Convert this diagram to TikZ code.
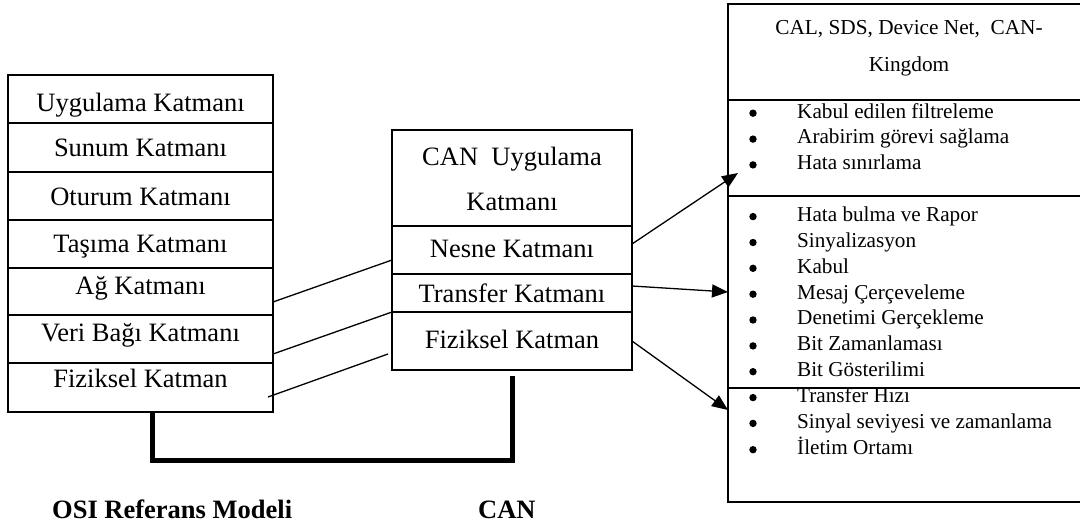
\documentclass[tikz,border=0pt]{standalone}
\usepackage{fontspec}
\setmainfont{Liberation Serif}
\usetikzlibrary{arrows.meta}
\begin{document}
\begin{tikzpicture}[x=1pt,y=-1pt,
  box/.style={draw, line width=1.4pt, inner sep=0pt, outer sep=0pt},
  lbl/.style={inner sep=0pt, anchor=base, font=\fontsize{26.5}{30}\selectfont},
  head/.style={inner sep=0pt, anchor=base, font=\fontsize{21.3}{25}\selectfont},
  item/.style={inner sep=0pt, anchor=base west, font=\fontsize{21.2}{25}\selectfont},
  title/.style={inner sep=0pt, anchor=base west, font=\fontsize{26.5}{30}\selectfont\bfseries},
  link/.style={line width=1.3pt},
  pointer/.style={line width=1.3pt, -{Triangle[length=16pt,width=13pt]}},
  bracket/.style={line width=5pt, line join=miter}]
\useasboundingbox (0,0) rectangle (1080,527);

% OSI reference model: seven stacked layers
\node[box, minimum width=265pt, minimum height=48pt] (r1) at (140.5,99)   {};
\node[box, minimum width=265pt, minimum height=49pt] (r2) at (140.5,147.5) {};
\node[box, minimum width=265pt, minimum height=48pt] (r3) at (140.5,196)  {};
\node[box, minimum width=265pt, minimum height=48pt] (r4) at (140.5,244)  {};
\node[box, minimum width=265pt, minimum height=47pt] (r5) at (140.5,291.5) {};
\node[box, minimum width=265pt, minimum height=48pt] (r6) at (140.5,339)  {};
\node[box, minimum width=265pt, minimum height=49pt] (r7) at (140.5,387.5) {};
\node[lbl] (t1) at (140.5,112) {Uygulama Katmanı};
\node[lbl] (t2) at (140.5,157) {Sunum Katmanı};
\node[lbl] (t3) at (140.5,205) {Oturum Katmanı};
\node[lbl] (t4) at (140.5,252) {Taşıma Katmanı};
\node[lbl] (t5) at (140.5,294) {Ağ Katmanı};
\node[lbl] (t6) at (140.5,341) {Veri Bağı Katmanı};
\node[lbl] (t7) at (140.5,387) {Fiziksel Katman};

% CAN layer stack
\node[box, minimum width=240pt, minimum height=96pt] (m1) at (512,178) {};
\node[box, minimum width=240pt, minimum height=48pt] (m2) at (512,250) {};
\node[box, minimum width=240pt, minimum height=38pt] (m3) at (512,293) {};
\node[box, minimum width=240pt, minimum height=58pt] (m4) at (512,341) {};
\node[lbl] (u1) at (512,165) {CAN\ \ Uygulama};
\node[lbl] (u2) at (512,210) {Katmanı};
\node[lbl] (u3) at (512,257) {Nesne Katmanı};
\node[lbl] (u4) at (512,302) {Transfer Katmanı};
\node[lbl] (u5) at (512,348) {Fiziksel Katman};

% Functions of the CAN layers
\node[box, minimum width=362pt, minimum height=96pt]  (s0) at (909,52)  {};
\node[box, minimum width=362pt, minimum height=96pt]  (s1) at (909,148) {};
\node[box, minimum width=362pt, minimum height=192pt] (s2) at (909,292) {};
\node[box, minimum width=362pt, minimum height=114pt] (s3) at (909,445) {};
\node[head] (h1) at (909,35) {CAL, SDS, Device Net,\ \ CAN-};
\node[head] (h2) at (909,72) {Kingdom};

% bulleted list: one entry per line, fixed baseline step
\foreach \name/\yb/\txt in {
    f1/118/{Kabul edilen filtreleme},
    f2/143.9/{Arabirim görevi sağlama},
    f3/169.7/{Hata sınırlama},
    f4/221.4/{Hata bulma ve Rapor},
    f5/247.3/{Sinyalizasyon},
    f6/273.1/{Kabul},
    f7/299/{Mesaj Çerçeveleme},
    f8/324.8/{Denetimi Gerçekleme},
    f9/350.7/{Bit Zamanlaması},
    f10/376.5/{Bit Gösterilimi},
    f11/402.4/{Transfer Hızı},
    f12/428.2/{Sinyal seviyesi ve zamanlama},
    f13/454.5/{İletim Ortamı}} {
  \fill (753,\yb-4.8) circle[radius=3.7pt];
  \node[item] (\name) at (797,\yb) {\txt};
}

% Correspondence between OSI layers and CAN layers
\draw[link] ([yshift=-10.5pt]r5.east) -- ([yshift=-10pt]m2.west);
\draw[link] ([yshift=-15pt]r6.east) -- (m3.south west);
\draw[link] ([xshift=-5pt,yshift=-9.5pt]r7.east) -- ([xshift=-4pt,yshift=-13pt]m4.west);

% CAN layers to their functions
\draw[pointer] ([yshift=6pt]m2.east) -- ([xshift=10pt,yshift=-25pt]s1.west);
\draw[pointer] ([yshift=7pt]m3.east) -- (s2.west);
\draw[pointer] (m4.east) -- ([yshift=35pt]s3.west);

% Bracket joining the two models
\draw[bracket] ([xshift=144pt]r7.south west) -- ++(0,48) -| ([yshift=-6pt]m4.south);

\node[title] (osi) at (52,518) {OSI Referans Modeli};
\node[title] (can) at (478,518) {CAN};
\end{tikzpicture}
\end{document}
